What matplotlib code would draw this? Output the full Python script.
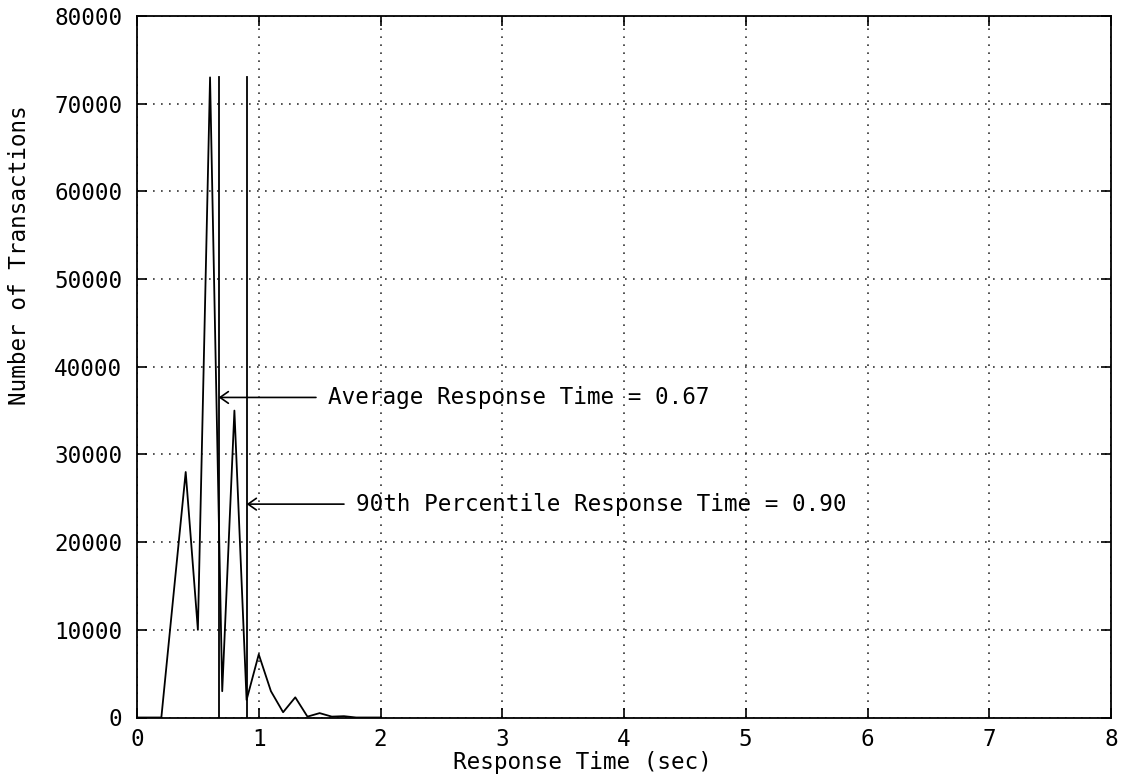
import numpy as np
import matplotlib
matplotlib.use("Agg")
import matplotlib.pyplot as plt

# histogram of response times (sec) -> number of transactions
resp_time = [0.0, 0.1, 0.2, 0.3, 0.4, 0.5, 0.6, 0.7, 0.8, 0.9, 1.0,
             1.1, 1.2, 1.3, 1.4, 1.5, 1.6, 1.7, 1.8, 1.9, 2.0]
n_trans = [0, 0, 0, 14000, 28000, 10000, 73000, 3000, 35000, 2000, 7200,
           3000, 600, 2300, 100, 500, 100, 150, 0, 0, 0]

avg_time = 0.67
p90_time = 0.90

x_ticks = [0, 1, 2, 3, 4, 5, 6, 7, 8]
y_ticks = [0, 10000, 20000, 30000, 40000, 50000, 60000, 70000, 80000]

plt.rcParams['font.family'] = ['DejaVu Sans Mono']
fs = 16.3

fig = plt.figure(figsize=(11.34, 7.78), dpi=100)
W, H = 1134.0, 778.0
ax = fig.add_axes([137/W, 1 - 717.5/H, (1111 - 137)/W, (717.5 - 16)/H])

ymax = max(n_trans)
ax.plot(resp_time, n_trans, color='black', lw=1.3)
# vertical markers for average and 90th percentile
ax.plot([avg_time, avg_time], [0, ymax], color='black', lw=1.3)
ax.plot([p90_time, p90_time], [0, ymax], color='black', lw=1.3)

arrow = dict(arrowstyle='->,head_length=0.5,head_width=0.35', color='black',
             lw=1.2, shrinkA=0, shrinkB=0, mutation_scale=12)
ax.annotate('', xy=(avg_time, ymax/2), xytext=(avg_time + 0.8, ymax/2), arrowprops=arrow)
ax.text(avg_time + 0.9, ymax/2, 'Average Response Time = %.2f' % avg_time,
        va='center', ha='left', fontsize=fs)
ax.annotate('', xy=(p90_time, ymax/3), xytext=(p90_time + 0.8, ymax/3), arrowprops=arrow)
ax.text(p90_time + 0.9, ymax/3, '90th Percentile Response Time = %.2f' % p90_time,
        va='center', ha='left', fontsize=fs)

ax.set_xlim(0, 8)
ax.set_ylim(0, 80000)
ax.set_xticks(x_ticks)
ax.set_yticks(y_ticks)
ax.set_xticklabels([str(t) for t in x_ticks], fontsize=fs)
ax.set_yticklabels([str(t) for t in y_ticks], fontsize=fs)
ax.tick_params(direction='in', length=7, width=1.2, top=True, right=True)
ax.tick_params(axis='y', pad=10.5)
ax.tick_params(axis='x', pad=7.5)
ax.grid(True, color='#333333', lw=1.2, linestyle=(0, (1, 3.8)))
for s in ax.spines.values():
    s.set_linewidth(1.3)

fig.text(582/W, 1 - 762/H, 'Response Time (sec)', ha='center', va='center', fontsize=fs)
fig.text(20/W, 1 - 255/H, 'Number of Transactions', ha='center', va='center',
         rotation=90, fontsize=fs)

fig.savefig('out.png', dpi=100)
